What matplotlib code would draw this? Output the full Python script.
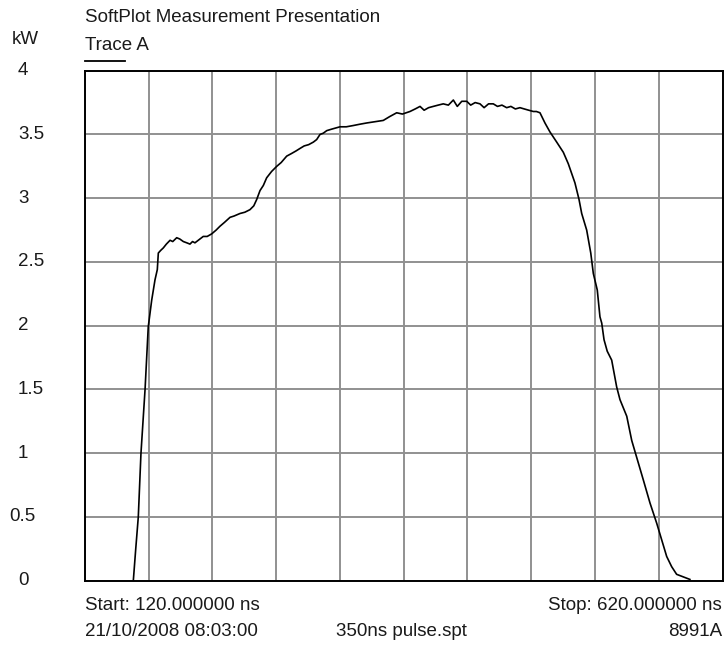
import matplotlib
matplotlib.use("Agg")
import matplotlib.pyplot as plt
from matplotlib.transforms import blended_transform_factory

plt.rcParams['font.family'] = ['Liberation Sans', 'DejaVu Sans']

# ---- data ----
time_ns = [158.1, 160.0, 162.0, 164.1, 167.3, 169.8, 172.5, 175.1, 176.9, 177.7,
           179.5, 181.6, 184.0, 186.9, 189.0, 192.1, 194.5, 197.3, 200.0, 202.5,
           204.5, 206.4, 209.0, 212.9, 216.0, 219.5, 223.0, 226.0, 229.5, 233.9,
           237.0, 241.7, 245.5, 249.5, 252.5, 254.8, 257.4, 260.0, 262.6, 266.5,
           270.5, 274.0, 278.3, 282.0, 285.5, 288.7, 292.0, 295.5, 299.2, 301.8,
           304.4, 307.0, 309.7, 313.0, 316.5, 320.1, 325.0, 330.5, 335.5, 341.0,
           347.5, 354.0, 359.0, 364.5, 369.0, 374.9, 379.0, 382.8, 386.0, 389.5,
           393.2, 397.0, 401.0, 405.0, 408.9, 412.0, 415.5, 419.4, 422.5, 426.0,
           429.8, 433.0, 436.5, 440.2, 443.5, 447.0, 450.7, 454.0, 457.5, 461.1,
           464.5, 468.0, 471.6, 474.0, 476.8, 480.7, 484.6, 489.9, 495.1, 499.0,
           504.2, 507.4, 509.5, 513.4, 516.6, 518.6, 521.7, 523.8, 525.2, 527.0,
           529.5, 533.0, 536.9, 539.5, 544.8, 548.7, 553.1, 557.8, 563.0, 568.3,
           572.2, 576.1, 580.0, 583.9, 589.1, 594.3]
power_kw = [0.00, 0.25, 0.50, 1.00, 1.50, 1.99, 2.20, 2.36, 2.44, 2.57,
            2.59, 2.61, 2.64, 2.67, 2.66, 2.69, 2.68, 2.66, 2.65, 2.64,
            2.66, 2.65, 2.67, 2.70, 2.70, 2.72, 2.75, 2.78, 2.81, 2.85,
            2.86, 2.88, 2.89, 2.91, 2.94, 2.99, 3.06, 3.10, 3.16, 3.21,
            3.25, 3.28, 3.33, 3.35, 3.37, 3.39, 3.41, 3.42, 3.44, 3.46,
            3.50, 3.51, 3.53, 3.54, 3.55, 3.56, 3.56, 3.57, 3.58, 3.59,
            3.60, 3.61, 3.64, 3.67, 3.66, 3.68, 3.70, 3.72, 3.69, 3.71,
            3.72, 3.73, 3.74, 3.73, 3.77, 3.72, 3.76, 3.76, 3.73, 3.75,
            3.74, 3.71, 3.74, 3.74, 3.72, 3.73, 3.71, 3.72, 3.70, 3.71,
            3.70, 3.69, 3.68, 3.68, 3.67, 3.59, 3.52, 3.44, 3.36, 3.27,
            3.12, 2.99, 2.88, 2.75, 2.57, 2.41, 2.28, 2.07, 2.02, 1.89,
            1.80, 1.73, 1.52, 1.42, 1.29, 1.10, 0.95, 0.79, 0.61, 0.45,
            0.32, 0.19, 0.11, 0.05, 0.03, 0.01]

x_start, x_stop = 120.0, 620.0
x_div = 50.0
y_ticks = [0, 0.5, 1, 1.5, 2, 2.5, 3, 3.5, 4]
y_tick_labels = ["0", "0.5", "1", "1.5", "2", "2.5", "3", "3.5", "4"]

# ---- figure ----
W, H = 726, 645
fig = plt.figure(figsize=(W / 100, H / 100), dpi=100)
ax = fig.add_axes([84.7 / W, 1 - 580.7 / H, 638 / W, 510 / H])

ax.plot(time_ns, power_kw, color='black', lw=1.2, solid_joinstyle='round')

ax.set_xlim(x_start, x_stop)
ax.set_ylim(y_ticks[0], y_ticks[-1])
xt = [x_start + i * x_div for i in range(int((x_stop - x_start) / x_div) + 1)]
ax.set_xticks(xt)
ax.set_yticks(y_ticks)
ax.grid(True, color='#909090', lw=1.4)
ax.tick_params(length=0, labelbottom=False, labelleft=False)
for s in ax.spines.values():
    s.set_color('black')
    s.set_linewidth(1.4)
ax.set_axisbelow(True)

fs = 13.5
tc = '#1a1a1a'
tr = blended_transform_factory(fig.transFigure, ax.transData)
for v, lab in zip(y_ticks, y_tick_labels):
    xpos = 9 / W if lab == "0.5" else 18 / W
    ax.text(xpos, v, lab, transform=tr, ha='left', va='center', fontsize=fs,
            color=tc, clip_on=False)

def ft(x, y, s, ha='left'):
    fig.text(x / W, 1 - y / H, s, ha=ha, va='center', fontsize=fs, color=tc)

ft(85, 17, "SoftPlot Measurement Presentation")
ft(12, 40, "kW")
ft(85, 46, "Trace A")
fig.add_artist(plt.Line2D([85 / W, 125 / W], [1 - 61 / H, 1 - 61 / H],
                          color='black', lw=1.3, transform=fig.transFigure))

ft(85, 606, "Start: 120.000000 ns")
ft(722, 606, "Stop: 620.000000 ns", ha='right')
ft(85, 632, "21/10/2008 08:03:00")
ft(336, 632, "350ns pulse.spt")
ft(722, 632, "8991A", ha='right')

fig.savefig("out.png", dpi=100, facecolor='white')
